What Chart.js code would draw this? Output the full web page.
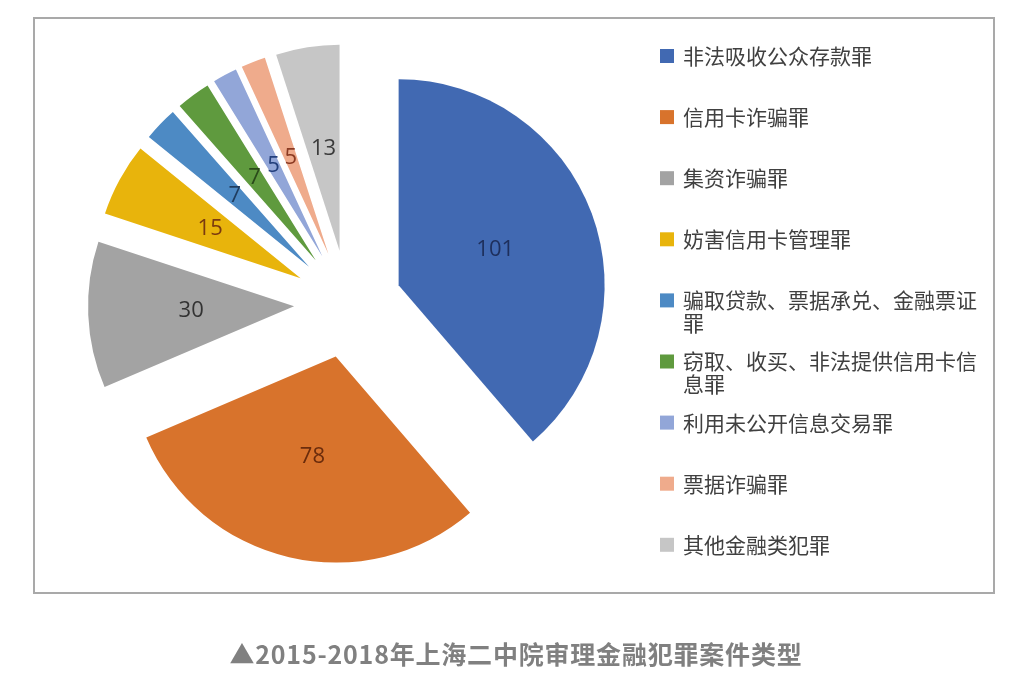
<!DOCTYPE html>
<html>
<head>
<meta charset="utf-8">
<script src="https://cdn.jsdelivr.net/npm/chart.js@4"></script>
<style>
  body { margin: 0; background: #fff; width: 1032px; height: 678px; overflow: hidden; position: relative; }
  #frame { position: absolute; left: 33px; top: 17px; width: 958px; height: 573px; border: 2px solid #a9a9a9; }
  #pie { position: absolute; left: 0; top: 0; }
  #caption { position: absolute; left: 0; top: 635px; width: 1032px; text-align: center;
    font: bold 25px "Noto Sans CJK SC", sans-serif; color: #808080; letter-spacing: 0.8px; }
</style>
</head>
<body>
<div id="frame"></div>
<canvas id="pie" width="1032" height="678"></canvas>
<div id="caption">▲2015-2018年上海二中院审理金融犯罪案件类型</div>
<script>
const categories = [
    '非法吸收公众存款罪',
    '信用卡诈骗罪',
    '集资诈骗罪',
    '妨害信用卡管理罪',
    '骗取贷款、票据承兑、金融票证罪',
    '窃取、收买、非法提供信用卡信息罪',
    '利用未公开信息交易罪',
    '票据诈骗罪',
    '其他金融类犯罪'
];
const caseCounts = [101, 78, 30, 15, 7, 7, 5, 5, 13];

const sliceColors = ['#4169b2', '#d8732c', '#a3a3a3', '#e8b40c', '#4d8ac4', '#5f9a3e', '#92a6d8', '#efab8c', '#c6c6c6'];
const labelColors = ['#1e2f5c', '#6b2c0c', '#333333', '#7a3a10', '#1f3c5e', '#2a4a1a', '#233f7c', '#8b3a22', '#3b3b3b'];

// every slice is pulled out this many px along its middle angle
const EXPLODE = 54;
const RADIUS = 206;

// chart.js's own arc offset narrows thin slices, so move each arc by hand
const explodedArcs = {
    id: 'explodedArcs',
    beforeDatasetDraw(chart, args) {
        const ctx = chart.ctx;
        for (const arc of args.meta.data) {
            const mid = (arc.startAngle + arc.endAngle) / 2;
            ctx.save();
            ctx.translate(Math.cos(mid) * EXPLODE, Math.sin(mid) * EXPLODE);
            arc.draw(ctx);
            ctx.restore();
        }
        return false;
    }
};

const sliceLabels = {
    id: 'sliceLabels',
    afterDatasetsDraw(chart) {
        const ctx = chart.ctx;
        const meta = chart.getDatasetMeta(0);
        ctx.save();
        ctx.font = '22px "Open Sans", sans-serif';
        ctx.textAlign = 'center';
        ctx.textBaseline = 'middle';
        meta.data.forEach((arc, i) => {
            const mid = (arc.startAngle + arc.endAngle) / 2;
            const dist = EXPLODE + arc.outerRadius / 2;
            ctx.fillStyle = labelColors[i];
            ctx.fillText(String(chart.data.datasets[0].data[i]), arc.x + Math.cos(mid) * dist, arc.y + Math.sin(mid) * dist);
        });
        ctx.restore();
    }
};

const sideLegend = {
    id: 'sideLegend',
    afterDraw(chart) {
        const ctx = chart.ctx;
        const colors = chart.data.datasets[0].backgroundColor;
        ctx.save();
        ctx.font = '21px "Noto Sans CJK SC", sans-serif';
        ctx.textBaseline = 'middle';
        chart.data.labels.forEach((label, i) => {
            const y = 56 + i * 61.1;
            ctx.fillStyle = colors[i];
            ctx.fillRect(660, y - 7, 14, 14);
            ctx.fillStyle = '#404040';
            // wrap long names by character
            let line = '';
            let lineY = y;
            for (const ch of label) {
                if (ctx.measureText(line + ch).width > 305) {
                    ctx.fillText(line, 683, lineY);
                    line = ch;
                    lineY += 23;
                } else {
                    line += ch;
                }
            }
            ctx.fillText(line, 683, lineY);
        });
        ctx.restore();
    }
};

const config = {
    type: 'pie',
    data: {
        labels: categories,
        datasets: [{
            data: caseCounts,
            backgroundColor: sliceColors,
            borderWidth: 0,
            offset: 0,
            hoverOffset: 0,
            clip: false
        }]
    },
    options: {
        responsive: false,
        animation: false,
        radius: RADIUS,
        layout: {
            padding: { left: 0, top: 0, right: 336, bottom: 70 }
        },
        plugins: {
            legend: { display: false },
            tooltip: { enabled: false }
        },
        events: []
    },
    plugins: [explodedArcs, sliceLabels, sideLegend]
};

const chart = new Chart(document.getElementById('pie'), config);
</script>
</body>
</html>
